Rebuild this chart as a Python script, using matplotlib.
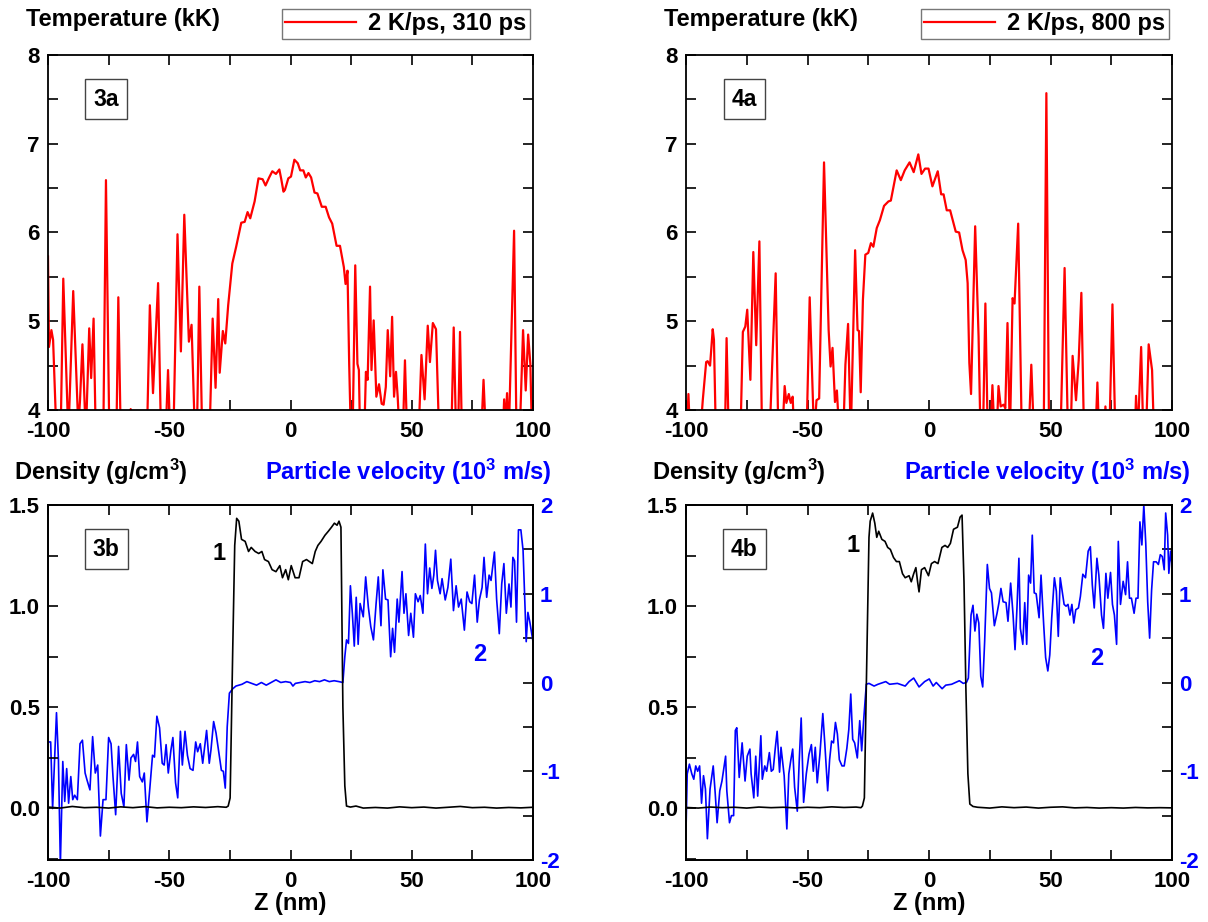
import numpy as np
import matplotlib
matplotlib.use("Agg")
import matplotlib.pyplot as plt
from matplotlib.ticker import MultipleLocator

plt.rcParams['font.family'] = ['Liberation Sans', 'DejaVu Sans']
plt.rcParams['font.weight'] = 'bold'
plt.rcParams['mathtext.default'] = 'regular'
plt.rcParams['axes.unicode_minus'] = False

# ---- panel 3a : temperature, 310 ps (values < 4 fall off the axis)
t3a_z = [-100, -99.6, -98.6, -97.9, -96.5, -94.8, -93.7, -91.6, -89.6, -87.5, -86.8, -85.8, -84.4,
         -83.0, -82.2, -81.2, -80.3, -77.2, -76.1, -74.7, -71.8, -71.0, -70.0, -66.3, -65.9, -65.5,
         -59.2, -58.0, -56.7, -54.6, -53.4, -51.5, -50.5, -49.6, -48.3, -46.6, -45.2, -43.8, -41.9,
         -40.8, -39.4, -38.6, -37.6, -36.4, -33.4, -32.1, -30.9, -29.8, -29.2, -27.9, -26.9, -25.7,
         -24.0, -22.4, -20.3, -18.9, -17.7, -16.6, -14.8, -13.2, -11.5, -10.3, -8.8, -7.5, -6.0,
         -4.6, -3.8, -2.9, -2.3, -0.9, 0.2, 1.6, 3.0, 4.0, 5.3, 6.3, 7.4, 8.5, 9.9, 11.1, 12.9,
         14.5, 15.9, 17.2, 19.0, 20.4, 22.0, 22.7, 23.5, 24.2, 24.9, 25.6, 26.7, 27.6, 28.2, 28.7,
         30.4, 31.1, 31.8, 32.8, 33.4, 34.3, 35.4, 36.5, 37.6, 38.4, 39.3, 40.1, 41.1, 41.9, 42.7,
         43.5, 44.2, 45.0, 46.3, 47.2, 48.1, 52.8, 54.0, 55.3, 56.6, 57.5, 58.7, 60.0, 61.3, 66.3,
         67.3, 68.3, 69.1, 69.9, 70.7, 78.6, 79.6, 80.6, 87.5, 88.1, 88.6, 89.3, 90.0, 92.2, 93.2,
         94.5, 95.9, 97.0, 98.0, 98.9, 99.6, 100]
t3a_T = [5.73, 4.71, 4.90, 4.79, 3.7, 3.7, 5.48, 3.7, 5.34, 3.8, 4.11, 4.74, 3.7,
         4.92, 4.36, 5.03, 3.7, 3.7, 6.59, 3.7, 3.7, 5.27, 3.7, 3.9, 4.01, 3.9,
         3.7, 5.18, 4.19, 5.43, 3.7, 3.7, 4.45, 3.7, 3.7, 5.98, 4.66, 6.20, 4.77,
         4.96, 3.7, 3.7, 5.39, 3.7, 3.7, 5.03, 4.25, 5.25, 4.42, 4.89, 4.75, 5.18,
         5.65, 5.84, 6.11, 6.12, 6.23, 6.16, 6.35, 6.61, 6.60, 6.53, 6.62, 6.69, 6.66,
         6.71, 6.60, 6.46, 6.48, 6.61, 6.63, 6.82, 6.78, 6.70, 6.70, 6.62, 6.67, 6.62, 6.45, 6.44, 6.29,
         6.29, 6.17, 6.10, 5.85, 5.85, 5.61, 5.42, 5.57, 4.52, 3.7, 3.7, 5.63, 4.52, 4.45, 3.7,
         3.7, 4.43, 4.34, 5.39, 4.45, 5.01, 4.15, 4.29, 4.07, 4.06, 4.26, 4.90, 4.38, 5.05, 4.15,
         4.43, 4.15, 3.7, 3.7, 4.56, 3.7, 3.7, 4.62, 4.12, 4.95, 4.54, 4.98, 4.91, 3.7, 3.7,
         4.93, 3.7, 3.7, 4.88, 3.7, 3.7, 4.34, 3.7, 3.7, 4.12, 3.8, 4.19, 3.7, 6.02, 3.7,
         3.7, 4.90, 4.22, 4.85, 4.52, 3.7, 3.7]

# ---- panel 4a : temperature, 800 ps
t4a_z = [-99.7, -99.0, -98.3, -94.2, -93.1, -91.7, -91.1, -90.1, -89.0, -88.5, -87.7, -84.0, -83.3,
         -82.4, -77.6, -76.6, -75.6, -74.8, -73.5, -72.3, -71.1, -69.8, -68.7, -65.6, -64.5, -63.1,
         -62.0, -60.4, -59.4, -58.7, -57.7, -56.9, -56.1, -55.5, -50.4, -49.1, -47.3, -46.3, -45.2,
         -43.2, -41.3, -40.5, -39.7, -38.7, -37.9, -36.9, -35.3, -34.4, -33.3, -32.2, -30.4, -29.4,
         -28.8, -28.1, -27.2, -26.2, -25.0, -23.9, -22.9, -21.5, -20.2, -18.5, -16.7, -15.7, -13.3,
         -11.6, -10.0, -8.0, -6.3, -4.4, -3.1, -1.6, -0.2, 1.4, 3.6, 5.0, 6.0, 7.3, 8.7, 11.0,
         12.4, 13.8, 15.1, 15.9, 16.6, 17.3, 19.0, 20.4, 21.2, 22.2, 23.2, 24.2, 25.3, 26.1, 27.0,
         27.8, 28.6, 29.5, 30.7, 31.4, 32.3, 33.3, 34.4, 35.2, 36.7, 38.2, 41.0, 42.1, 43.2, 47.2,
         48.3, 49.4, 54.1, 55.8, 57.2, 58.3, 59.1, 60.5, 61.6, 62.7, 63.8, 68.5, 69.3, 70.0, 72.0,
         72.6, 73.3, 74.2, 75.5, 76.7, 84.7, 85.2, 85.9, 87.3, 88.2, 89.3, 90.4, 91.8, 92.6, 100]
t4a_T = [3.7, 4.18, 3.7, 3.7, 4.11, 4.54, 4.55, 4.50, 4.91, 4.79, 3.7, 3.7, 4.81,
         3.7, 3.7, 4.88, 4.94, 5.13, 4.34, 5.78, 4.73, 5.90, 3.7, 3.7, 4.53, 5.54,
         3.7, 3.7, 4.27, 4.08, 4.18, 4.08, 4.15, 3.7, 3.7, 5.27, 3.7, 4.11, 4.13,
         6.79, 4.90, 4.49, 4.70, 4.09, 4.22, 3.7, 3.7, 4.51, 4.97, 3.7, 5.80, 4.90,
         4.89, 4.20, 5.24, 5.75, 5.77, 5.88, 5.84, 6.05, 6.14, 6.30, 6.35, 6.36, 6.70,
         6.59, 6.70, 6.79, 6.68, 6.88, 6.66, 6.72, 6.72, 6.52, 6.69, 6.43, 6.43, 6.25, 6.25, 6.01,
         6.00, 5.80, 5.69, 5.43, 4.53, 4.18, 6.07, 4.83, 3.7, 3.7, 5.20, 3.7, 3.7, 4.28, 3.7,
         3.7, 4.27, 4.04, 4.06, 4.02, 4.98, 3.7, 5.26, 5.20, 6.10, 3.7, 3.7, 4.51, 3.7, 3.7,
         7.57, 3.7, 3.7, 5.60, 3.7, 3.7, 4.61, 4.11, 4.56, 5.32, 3.7, 3.7, 4.31, 3.7, 3.7,
         4.04, 3.7, 3.7, 5.19, 3.7, 3.7, 4.16, 3.7, 4.71, 3.7, 3.7, 4.74, 4.45, 3.7, 3.7]

# ---- panel 3b : density (curve 1) and particle velocity (curve 2)
d3b_z = [-100, -95, -90, -85, -80, -75, -70, -65, -60, -55, -50, -45, -40, -35, -30, -26.5, -25.7,
         -24.9, -23.8, -23.0, -22.2, -21.3, -20.2, -18.7, -17.3, -16.2, -14.6, -13.1, -11.8, -10.7,
         -9.1, -7.6, -6.0, -4.4, -3.3, -2.0, -0.9, 0.3, 1.9, 3.5, 5.0, 6.6, 9.0, 10.2, 11.3, 12.6,
         14.2, 15.6, 16.9, 18.1, 19.2, 20.0, 20.8, 21.6, 22.4, 23.1, 24.7, 27, 30, 35, 40, 45, 50,
         55, 60, 65, 70, 75, 80, 85, 90, 95, 100]
d3b_rho = [0.005, 0.0, 0.008, 0.002, 0.004, 0.0, 0.006, 0.002, 0.007, 0.001, 0.004, 0.002, 0.006,
           0.003, 0.007, 0.004, 0.01, 0.05, 0.80, 1.30, 1.434, 1.42, 1.33, 1.32, 1.27, 1.29, 1.27,
           1.26, 1.27, 1.23, 1.22, 1.18, 1.17, 1.20, 1.14, 1.18, 1.13, 1.20, 1.14, 1.14, 1.22,
           1.23, 1.21, 1.27, 1.30, 1.32, 1.35, 1.37, 1.39, 1.41, 1.40, 1.42, 1.39, 0.50, 0.11,
           0.01, 0.005, 0.01, 0.0, 0.003, 0.0, 0.006, 0.002, 0.005, 0.0, 0.004, 0.008, 0.002,
           0.004, 0.0, 0.003, 0.001, 0.004]

v3b_z = [-100, -98.9, -98.1, -96.5, -95.7, -94.9, -93.9, -93.1, -92.3, -91.5, -90.6, -89.8, -89.0,
         -87.9, -86.8, -85.8, -84.7, -83.9, -82.7, -81.6, -80.5, -79.5, -78.4, -77.3, -76.1, -75.0,
         -74.0, -73.2, -72.1, -70.9, -69.8, -68.7, -67.7, -66.6, -65.8, -64.7, -63.9, -63.1, -62.2,
         -61.1, -60.3, -59.2, -58.0, -56.9, -56.1, -55.1, -54.0, -52.9, -52.1, -51.3, -50.4, -49.3,
         -48.5, -47.4, -46.5, -45.4, -44.6, -43.5, -42.5, -41.4, -40.2, -39.1, -38.3, -37.2, -36.2,
         -35.4, -34.6, -33.5, -32.8, -31.7, -30.7, -29.6, -28.5, -27.7, -26.9, -26.1, -25.2, -23.8,
         -22.5, -20, -18, -16, -14, -12, -10, -8, -6, -4, -2, 0, 1, 2, 4, 6, 8, 10, 12, 14, 16,
         18, 20, 21.6, 22.4, 23.1, 23.9, 24.7, 25.5, 26.3, 27.1, 27.9, 28.7, 30.0, 31.0, 32.1,
         33.1, 34.2, 35.3, 36.2, 37.3, 38.1, 39.2, 40.2, 41.3, 42.1, 42.9, 44.0, 44.7, 46.0, 46.8,
         47.6, 48.7, 49.6, 50.7, 51.5, 52.6, 53.5, 54.6, 55.6, 56.5, 57.4, 58.3, 59.1, 59.8, 60.6,
         61.7, 62.5, 63.8, 64.9, 66.1, 67.2, 68.3, 69.3, 70.4, 71.7, 72.8, 73.9, 74.8, 75.9, 77.0,
         77.9, 79.0, 79.8, 80.9, 81.9, 82.7, 84.1, 85.0, 86.1, 87.1, 88.0, 89.0, 90.1, 90.9, 91.7,
         92.4, 93.2, 94.0, 95.0, 95.9, 97.2, 97.9, 98.7, 100]
v3b_u = [-0.67, -0.67, -1.42, -0.34, -0.87, -2.05, -0.89, -1.34, -0.97, -1.36, -1.06, -1.32, -1.27,
         -1.32, -0.69, -0.65, -1.02, -1.10, -1.21, -0.61, -1.02, -0.93, -1.73, -1.32, -1.32, -0.62,
         -0.69, -1.06, -1.49, -0.72, -1.25, -1.40, -0.70, -1.10, -0.85, -0.81, -0.89, -0.67, -1.06,
         -1.12, -1.02, -1.57, -1.19, -0.82, -0.84, -0.38, -0.51, -0.91, -0.93, -0.70, -1.02, -0.76,
         -0.62, -1.13, -1.30, -0.55, -0.93, -0.55, -0.82, -0.97, -0.99, -0.67, -0.78, -0.69, -0.91,
         -0.72, -0.54, -0.91, -0.76, -0.44, -0.57, -0.78, -0.99, -1.00, -1.19, -0.50, -0.12, -0.07,
         -0.04, -0.02, 0.01, -0.01, -0.03, 0.0, -0.03, 0.0, 0.03, 0.0, 0.01, 0.0, -0.04, -0.01, 0.0,
         0.01, 0.0, 0.02, 0.01, 0.03, 0.01, 0.02, 0.01, 0.0, 0.29, 0.48, 0.44, 1.09, 0.78, 0.41,
         0.96, 0.43, 0.89, 0.74, 1.19, 0.85, 0.63, 0.48, 0.89, 1.19, 0.64, 1.27, 0.94, 0.93, 0.29,
         0.61, 0.34, 0.94, 0.68, 1.25, 0.78, 1.00, 0.53, 0.78, 0.51, 1.00, 0.91, 0.98, 0.78, 1.56,
         1.00, 1.29, 1.06, 1.21, 1.49, 1.15, 1.00, 1.17, 0.93, 1.07, 1.39, 0.81, 1.09, 0.85, 0.94,
         0.59, 1.02, 0.91, 0.89, 1.21, 0.68, 0.93, 1.07, 1.41, 0.96, 1.21, 1.15, 1.47, 0.94, 0.55,
         1.11, 1.34, 0.78, 1.11, 0.85, 1.41, 1.37, 0.68, 1.72, 1.72, 1.49, 0.46, 0.79, 0.68, 0.46]

# ---- panel 4b
d4b_z = [-100, -95, -90, -85, -80, -75, -70, -65, -60, -55, -50, -45, -40, -35, -30, -28, -27.4,
         -26.6, -25.8, -24.7, -24.2, -23.2, -22.3, -21.5, -20.7, -19.4, -18.1, -17.0, -15.9, -14.6,
         -13.4, -12.2, -10.9, -9.8, -8.2, -7.3, -6.3, -5.4, -4.7, -4.1, -3.1, -1.8, -0.2, 1.0, 2.3,
         3.7, 5.3, 6.6, 7.7, 8.8, 10.1, 11.7, 12.8, 13.6, 14.4, 15.2, 16.0, 16.8, 18.1, 20, 25,
         30, 35, 40, 45, 50, 55, 60, 65, 70, 75, 80, 85, 90, 95, 100]
d4b_rho = [0.003, 0.0, 0.005, 0.002, 0.004, 0.0, 0.005, 0.002, 0.004, 0.001, 0.004, 0.002, 0.006,
           0.003, 0.005, 0.002, 0.01, 0.05, 0.60, 1.34, 1.42, 1.46, 1.41, 1.34, 1.37, 1.33, 1.32,
           1.29, 1.28, 1.24, 1.22, 1.22, 1.16, 1.14, 1.15, 1.12, 1.16, 1.19, 1.12, 1.07, 1.18, 1.19,
           1.15, 1.21, 1.22, 1.21, 1.29, 1.30, 1.29, 1.31, 1.38, 1.39, 1.44, 1.45, 1.12, 0.58,
           0.17, 0.02, 0.008, 0.004, 0.0, 0.006, 0.002, 0.005, 0.0, 0.004, 0.006, 0.001, 0.003,
           0.0, 0.002, 0.0, 0.003, 0.001, 0.002, 0.001]

v4b_z = [-100, -99.5, -98.6, -97.6, -96.8, -96.0, -95.2, -94.4, -93.6, -92.8, -92.0, -91.2, -90.1,
         -88.8, -88.0, -87.2, -86.1, -85.2, -83.7, -83.2, -82.1, -81.3, -80.4, -79.7, -79.1, -78.1,
         -76.9, -75.7, -74.8, -73.7, -73.2, -72.1, -71.3, -70.5, -69.2, -68.6, -67.6, -66.8, -65.7,
         -64.9, -64.1, -63.3, -62.5, -61.5, -60.9, -59.6, -58.5, -57.7, -56.9, -56.1, -55.3, -54.2,
         -53.4, -52.6, -51.6, -50.5, -49.4, -48.4, -47.6, -46.8, -46.0, -44.9, -43.7, -42.9, -41.7,
         -40.9, -40.1, -39.3, -38.5, -37.7, -36.9, -35.8, -34.9, -33.8, -33.0, -32.2, -31.4, -30.6,
         -29.5, -28.5, -27.7, -26.9, -25.8, -24.7, -22.6, -21.0, -17.8, -16.2, -13.0, -9.8, -8.2,
         -6.3, -4.1, -1.8, 0.1, 1.7, 3.0, 5.4, 6.9, 9.3, 11.7, 12.5, 14.1, 15.4, 16.2, 17.3, 18.1,
         18.9, 19.7, 20.5, 21.3, 22.1, 22.9, 24.0, 24.9, 25.7, 26.9, 28.0, 28.8, 29.6, 30.5, 31.7,
         32.5, 33.6, 34.6, 35.4, 36.2, 37.0, 37.6, 38.6, 39.4, 40.2, 41.0, 41.8, 42.5, 43.3, 44.1,
         45.3, 46.1, 47.2, 48.0, 48.9, 49.7, 50.5, 51.6, 52.4, 53.2, 54.0, 54.8, 55.6, 56.4, 57.2,
         58.0, 58.8, 59.6, 60.4, 61.5, 62.3, 63.3, 64.4, 65.5, 66.4, 67.2, 68.0, 69.1, 69.9, 71.0,
         71.8, 72.8, 73.6, 74.7, 75.5, 76.3, 77.2, 77.9, 78.8, 79.9, 80.9, 81.7, 82.5, 83.3, 84.4,
         85.2, 86.0, 86.8, 87.6, 88.4, 89.2, 90.0, 90.8, 91.6, 92.4, 93.5, 94.4, 95.2, 96.0, 96.8,
         97.4, 98.2, 98.7, 99.4, 100]
v4b_u = [-1.67, -1.03, -0.92, -1.03, -1.09, -0.94, -1.00, -0.94, -1.36, -1.05, -1.20, -1.76, -1.20,
         -0.94, -1.24, -1.58, -1.22, -1.11, -0.83, -1.22, -1.58, -1.50, -1.50, -0.54, -0.51, -1.07,
         -0.68, -1.11, -0.83, -0.75, -1.03, -1.30, -0.83, -1.28, -0.60, -1.09, -0.94, -1.00, -0.79,
         -1.00, -0.98, -0.75, -0.55, -1.01, -0.73, -1.05, -1.65, -1.03, -0.88, -0.75, -1.18, -1.45,
         -0.88, -0.40, -1.35, -1.03, -0.81, -0.70, -1.00, -0.73, -1.13, -0.81, -0.35, -0.68, -1.22,
         -0.87, -0.66, -0.68, -0.45, -0.58, -0.87, -0.94, -0.94, -0.74, -0.53, -0.13, -0.64, -0.68,
         -0.85, -0.43, -0.77, -0.43, -0.02, -0.01, -0.04, -0.02, 0.01, -0.02, -0.01, -0.04, 0.01,
         0.05, -0.05, 0.01, 0.04, -0.04, 0.0, -0.07, -0.03, -0.02, 0.01, 0.02, -0.01, 0.0, 0.05,
         0.76, 0.87, 0.58, 0.77, 0.67, 0.07, -0.05, 0.46, 1.33, 1.06, 1.01, 0.64, 0.78, 0.90, 1.06,
         0.91, 0.90, 0.69, 1.12, 0.76, 0.37, 0.84, 1.40, 0.61, 0.43, 0.90, 0.43, 1.21, 1.12, 1.66,
         1.01, 1.00, 0.73, 1.21, 0.65, 0.28, 0.13, 0.31, 0.73, 1.18, 1.03, 0.52, 1.18, 1.03, 0.88,
         0.86, 0.88, 0.76, 0.88, 0.67, 0.82, 0.84, 0.97, 1.22, 1.18, 1.48, 1.53, 1.10, 0.84, 1.40,
         1.21, 0.76, 0.61, 1.23, 0.95, 1.24, 0.88, 0.76, 0.43, 1.59, 0.88, 1.14, 0.99, 1.36, 0.95,
         0.95, 0.78, 0.95, 0.95, 1.81, 1.55, 2.00, 1.57, 0.91, 0.50, 1.04, 1.36, 1.36, 1.33, 1.44,
         1.42, 1.27, 1.91, 1.66, 1.23, 1.48, 1.33]

RED = '#ff0000'
BLUE = '#0000ff'
TICK_FS = 16
TXT_FS = 17

fig = plt.figure(figsize=(12.08, 9.22), dpi=100)
W, H = 1208., 922.


def make_ax(l, r, t, b):
    return fig.add_axes([l / W, 1 - b / H, (r - l) / W, (b - t) / H])


def style(ax, right=True):
    for s in ax.spines.values():
        s.set_linewidth(1.3)
    ax.set_xlim(-100, 100)
    ax.xaxis.set_major_locator(MultipleLocator(50))
    ax.xaxis.set_minor_locator(MultipleLocator(25))
    ax.tick_params(which='both', direction='in', top=True, right=right,
                   labelsize=TICK_FS, width=1.2)
    ax.tick_params(which='major', length=7)
    ax.tick_params(which='minor', length=7)
    ax.tick_params(axis='x', pad=8)
    ax.tick_params(axis='y', pad=6)
    for lab in ax.get_xticklabels() + ax.get_yticklabels():
        lab.set_fontweight('bold')


def tag(ax, s):
    ax.text(0.12, 0.876, s, transform=ax.transAxes, ha='center', va='center',
            fontsize=16.5, fontweight='bold',
            bbox=dict(boxstyle='square,pad=0.35', fc='white', ec='#444444', lw=1))


def temp_panel(l, r, z, T, tg, lab):
    ax = make_ax(l, r, 55, 410)
    ax.plot(z, T, color=RED, lw=1.6, label=lab)
    ax.set_ylim(4, 8)
    ax.yaxis.set_major_locator(MultipleLocator(1))
    ax.yaxis.set_minor_locator(MultipleLocator(0.5))
    style(ax)
    tag(ax, tg)
    ax.text(-0.045, 1.099, 'Temperature (kK)', transform=ax.transAxes,
            ha='left', va='center', fontsize=TXT_FS, fontweight='bold')
    leg = ax.legend(loc='lower right', bbox_to_anchor=(0.993, 1.045), fontsize=TXT_FS,
                    frameon=True, fancybox=False, edgecolor='#555555', handlelength=3.0,
                    handletextpad=0.5, borderpad=0.15, borderaxespad=0)
    leg.get_frame().set_linewidth(1.0)
    for t in leg.get_texts():
        t.set_fontweight('bold')
    return ax


def dens_panel(l, r, z, rho, vz, vu, tg, p1, p2):
    ax = make_ax(l, r, 505, 860)
    ax.plot(z, rho, color='black', lw=1.2)
    ax.set_ylim(-0.257, 1.5)
    ax.yaxis.set_major_locator(MultipleLocator(0.5))
    ax.yaxis.set_minor_locator(MultipleLocator(0.25))
    ax.yaxis.set_major_formatter(matplotlib.ticker.FormatStrFormatter('%.1f'))
    style(ax, right=False)
    ax2 = ax.twinx()
    ax2.plot(vz, vu, color=BLUE, lw=1.2)
    ax2.set_ylim(-2, 2)
    ax2.yaxis.set_major_locator(MultipleLocator(1))
    ax2.yaxis.set_minor_locator(MultipleLocator(0.5))
    ax2.tick_params(which='both', direction='in', labelsize=TICK_FS, width=1.2,
                    labelcolor=BLUE, length=7, pad=5)
    for lab in ax2.get_yticklabels():
        lab.set_fontweight('bold')
    for s in ax2.spines.values():
        s.set_linewidth(1.3)
    ax.set_zorder(ax2.get_zorder() + 1)
    ax.patch.set_visible(False)
    tag(ax, tg)
    ax.text(p1[0], p1[1], '1', fontsize=TXT_FS, fontweight='bold', ha='center', va='center')
    ax.text(p2[0], p2[1], '2', fontsize=TXT_FS, fontweight='bold', color=BLUE,
            ha='center', va='center')
    ax.text(-0.07, 1.093, 'Density (g/cm$^3$)', transform=ax.transAxes,
            ha='left', va='center', fontsize=TXT_FS, fontweight='bold')
    ax.text(1.038, 1.093, 'Particle velocity (10$^3$ m/s)', transform=ax.transAxes,
            ha='right', va='center', fontsize=TXT_FS, fontweight='bold', color=BLUE)
    ax.set_xlabel('Z (nm)', fontsize=TXT_FS, fontweight='bold', labelpad=0)
    return ax


temp_panel(48, 533, t3a_z, t3a_T, '3a', '2 K/ps, 310 ps')
temp_panel(686, 1172, t4a_z, t4a_T, '4a', '2 K/ps, 800 ps')
dens_panel(48, 533, d3b_z, d3b_rho, v3b_z, v3b_u, '3b', (-29.5, 1.26), (78, 0.76))
dens_panel(686, 1172, d4b_z, d4b_rho, v4b_z, v4b_u, '4b', (-31.3, 1.30), (69, 0.74))

fig.savefig('out.png', dpi=100)
